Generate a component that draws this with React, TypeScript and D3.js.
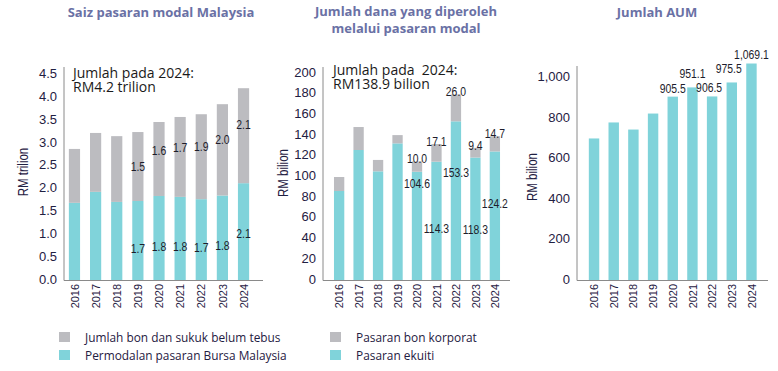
import { useEffect, useRef } from 'react'
import * as d3 from 'd3'

const years = ['2016', '2017', '2018', '2019', '2020', '2021', '2022', '2023', '2024']

// Saiz pasaran modal Malaysia (RM trilion)
const bursaCap = [1.69, 1.93, 1.71, 1.73, 1.84, 1.82, 1.77, 1.85, 2.12]
const bondsOutstanding = [1.18, 1.29, 1.44, 1.51, 1.62, 1.75, 1.86, 2.0, 2.08]
const bursaCapLabels = ['', '', '', '1.7', '1.8', '1.8', '1.7', '1.8', '2.1']
const bondsOutstandingLabels = ['', '', '', '1.5', '1.6', '1.7', '1.9', '2.0', '2.1']

// Jumlah dana yang diperoleh (RM bilion)
const equityRaised = [86, 125.6, 105, 132, 104.6, 114.3, 153.3, 118.3, 124.2]
const bondsRaised = [13.5, 22.2, 11, 8, 10.0, 17.1, 26.0, 9.4, 14.7]
const equityRaisedLabels = ['', '', '', '', '104.6', '114.3', '153.3', '118.3', '124.2']
const bondsRaisedLabels = ['', '', '', '', '10.0', '17.1', '26.0', '9.4', '14.7']

// Jumlah AUM (RM bilion)
const aum = [699, 778, 743, 822, 905.5, 951.1, 906.5, 975.5, 1069.1]
const aumLabels = ['', '', '', '', '905.5', '951.1', '906.5', '975.5', '1,069.1']

const ticks1 = [0, 0.5, 1, 1.5, 2, 2.5, 3, 3.5, 4, 4.5]
const ticks2 = [0, 20, 40, 60, 80, 100, 120, 140, 160, 180, 200]
const ticks3 = [0, 200, 400, 600, 800, 1000]

const CYAN = '#80d3da'
const GREY = '#bcbcc0'
const AXIS = '#8a8a8a'
const NAVY = '#1f2042'
const TITLE = '#6a71a5'
const INK = '#1d1d2b'
const SANS = '"Liberation Sans", Arial, sans-serif'
const SOFT = '"Open Sans", "Noto Sans", sans-serif'

export default function App() {
  const svgRef = useRef<SVGSVGElement>(null)

  useEffect(() => {
    document.body.style.margin = '0'
    const svg = d3.select(svgRef.current)
    svg.selectAll('*').remove()

    // text helper; sx squeezes the glyphs horizontally (condensed look), rot rotates
    const text = (x: number, y: number, s: string, opts: any = {}) =>
      svg.append('text')
        .attr('transform', `translate(${x},${y})${opts.rot ? ` rotate(${opts.rot})` : ''} scale(${opts.sx || 1},1)`)
        .attr('text-anchor', opts.anchor || 'middle')
        .attr('font-family', opts.family || SANS)
        .attr('font-size', opts.size || 12)
        .attr('font-weight', opts.weight || 'normal')
        .attr('fill', opts.fill || NAVY)
        .attr('dominant-baseline', opts.baseline || 'auto')
        .style('white-space', 'pre')
        .text(s)

    const label = (x: number, y: number, s: string) =>
      text(x, y, s, { size: 13, sx: 0.8, baseline: 'central', fill: INK })

    const panel = (cfg: {
      axisX: number, x0: number, x1: number, domainMax: number, yTop: number,
      ticks: number[], fmt: (d: number) => string, yLabel: string, yLabelX: number, yLabelY: number
    }) => {
      const x = d3.scaleBand<string>().domain(years).range([cfg.x0, cfg.x1]).paddingInner(0.47).paddingOuter(0.235)
      const y = d3.scaleLinear().domain([0, cfg.domainMax]).range([280, cfg.yTop])

      cfg.ticks.forEach(t => {
        text(cfg.axisX - 7, y(t) - 1, cfg.fmt(t), { anchor: 'end', size: 13, baseline: 'central' })
      })
      text(cfg.yLabelX, cfg.yLabelY, cfg.yLabel, { rot: -90, size: 14, sx: 0.82, baseline: 'central' })
      years.forEach(yr => {
        text((x(yr) as number) + x.bandwidth() / 2, 284, yr, { rot: -90, anchor: 'end', size: 11.5, sx: 0.95, baseline: 'central' })
      })
      const g = svg.append('g')
      return { x, y, g }
    }

    const drawAxes = (axisX: number, xEnd: number, top: number) => {
      svg.append('line').attr('x1', axisX).attr('x2', axisX).attr('y1', top).attr('y2', 280.5)
        .attr('stroke', AXIS).attr('stroke-width', 1)
      svg.append('line').attr('x1', axisX).attr('x2', xEnd).attr('y1', 280.5).attr('y2', 280.5)
        .attr('stroke', AXIS).attr('stroke-width', 1)
    }

    // ---- Panel 1: Saiz pasaran modal Malaysia
    {
      const { x, y, g } = panel({
        axisX: 64, x0: 63.9, x1: 254.1, domainMax: 4.5, yTop: 74.5,
        ticks: ticks1, fmt: d3.format('.1f'), yLabel: 'RM trilion', yLabelX: 23, yLabelY: 172,
      })
      years.forEach((yr, i) => {
        const bx = x(yr) as number
        const top = bursaCap[i] + bondsOutstanding[i]
        g.append('rect').attr('x', bx).attr('width', x.bandwidth())
          .attr('y', y(bursaCap[i])).attr('height', y(0) - y(bursaCap[i])).attr('fill', CYAN)
        g.append('rect').attr('x', bx).attr('width', x.bandwidth())
          .attr('y', y(top)).attr('height', y(bursaCap[i]) - y(top)).attr('fill', GREY)
        const cx = bx + x.bandwidth() / 2
        if (bursaCapLabels[i]) label(cx, y(bursaCap[i] * (i === 8 ? 0.49 : 0.41)), bursaCapLabels[i])
        if (bondsOutstandingLabels[i]) label(cx, y(bursaCap[i] + bondsOutstanding[i] * (i === 3 ? 0.51 : 0.62)), bondsOutstandingLabels[i])
      })
      drawAxes(64, 263, 67)
      text(73, 78, 'Jumlah pada 2024:', { anchor: 'start', size: 14, family: SOFT, fill: '#1a1a1a' })
      text(73, 92, 'RM4.2 trilion', { anchor: 'start', size: 14, family: SOFT, fill: '#1a1a1a' })
      text(161, 17, 'Saiz pasaran modal Malaysia', { size: 13, weight: 'bold', family: SOFT, fill: TITLE })
    }

    // ---- Panel 2: Jumlah dana yang diperoleh
    {
      const { x, y, g } = panel({
        axisX: 323, x0: 329.4, x1: 504.6, domainMax: 200, yTop: 73,
        ticks: ticks2, fmt: d3.format('d'), yLabel: 'RM bilion', yLabelX: 283, yLabelY: 173,
      })
      const equityLabelPos = [0, 0, 0, 0, 0.9, 0.44, 0.68, 0.42, 0.6]
      years.forEach((yr, i) => {
        const bx = x(yr) as number
        const top = equityRaised[i] + bondsRaised[i]
        g.append('rect').attr('x', bx).attr('width', x.bandwidth())
          .attr('y', y(equityRaised[i])).attr('height', y(0) - y(equityRaised[i])).attr('fill', CYAN)
        g.append('rect').attr('x', bx).attr('width', x.bandwidth())
          .attr('y', y(top)).attr('height', y(equityRaised[i]) - y(top)).attr('fill', GREY)
        const cx = bx + x.bandwidth() / 2
        if (bondsRaisedLabels[i]) label(cx, y(top) - 3, bondsRaisedLabels[i])
        if (equityRaisedLabels[i]) label(cx, y(equityRaised[i] * equityLabelPos[i]), equityRaisedLabels[i])
      })
      drawAxes(323, 510, 67)
      text(333, 75, 'Jumlah pada  2024:', { anchor: 'start', size: 14, family: SOFT, fill: '#1a1a1a' })
      text(333, 89, 'RM138.9 bilion', { anchor: 'start', size: 14, family: SOFT, fill: '#1a1a1a' })
      text(406, 16, 'Jumlah dana yang diperoleh', { size: 13, weight: 'bold', family: SOFT, fill: TITLE })
      text(406, 33, 'melalui pasaran modal', { size: 13, weight: 'bold', family: SOFT, fill: TITLE })
    }

    // ---- Panel 3: Jumlah AUM
    {
      const { x, y, g } = panel({
        axisX: 577, x0: 584.2, x1: 761.3, domainMax: 1000, yTop: 77.5,
        ticks: ticks3, fmt: d3.format(','), yLabel: 'RM bilion', yLabelX: 532, yLabelY: 177,
      })
      years.forEach((yr, i) => {
        const bx = x(yr) as number
        g.append('rect').attr('x', bx).attr('width', x.bandwidth())
          .attr('y', y(aum[i])).attr('height', y(0) - y(aum[i])).attr('fill', CYAN)
        if (aumLabels[i]) {
          const lift = i % 2 === 1 ? 14 : 9
          label(bx + x.bandwidth() / 2 - (i === 6 || i === 7 ? 3 : 0), y(aum[i]) - lift, aumLabels[i])
        }
      })
      drawAxes(577, 768, 66)
      text(657, 17, 'Jumlah AUM', { size: 13, weight: 'bold', family: SOFT, fill: TITLE })
    }

    // ---- Legend
    const legend = [
      { x: 59, y: 332, color: GREY, label: 'Jumlah bon dan sukuk belum tebus' },
      { x: 59, y: 350, color: CYAN, label: 'Permodalan pasaran Bursa Malaysia' },
      { x: 330, y: 332, color: GREY, label: 'Pasaran bon korporat' },
      { x: 330, y: 350, color: CYAN, label: 'Pasaran ekuiti' },
    ]
    legend.forEach(l => {
      svg.append('rect').attr('x', l.x).attr('y', l.y).attr('width', 11).attr('height', 10).attr('fill', l.color)
      text(l.x + 26, l.y + 5, l.label, { anchor: 'start', size: 13.5, sx: 0.88, family: SOFT, baseline: 'central' })
    })
  }, [])

  return (
    <svg
      ref={svgRef}
      width={778}
      height={371}
      style={{ position: 'absolute', left: 0, top: 0, background: '#fff' }}
    />
  )
}
